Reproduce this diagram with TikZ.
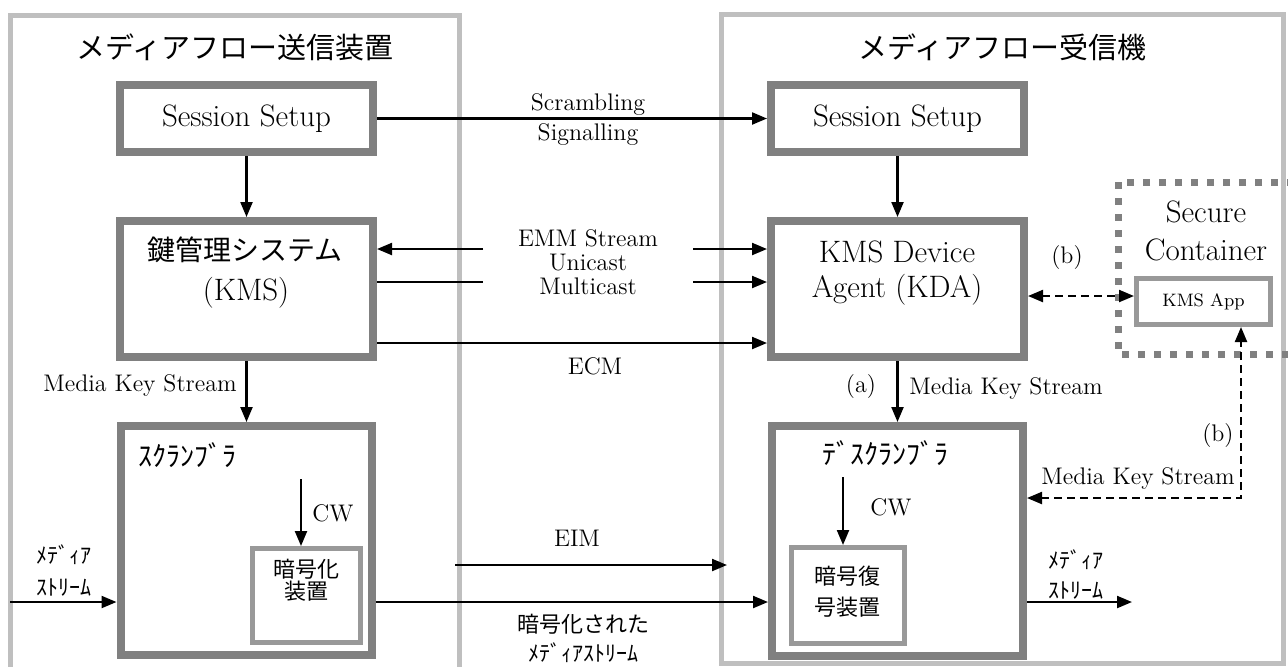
\documentclass[tikz,border=0pt]{standalone}
\usepackage{fontspec}
\newfontfamily\jpfont{Noto Sans CJK JP}
\usetikzlibrary{arrows.meta}
\tikzset{
  >={Triangle[length=7.5pt,width=6pt]},
  panel/.style={draw=black!25, line width=2.5pt},
  blk/.style={draw=black!50, line width=4pt, fill=white, inner sep=0pt},
  sub/.style={draw=black!40, line width=2.5pt, fill=white, inner sep=0pt},
  arr/.style={->, line width=1.1pt},
  darr/.style={<->, line width=1.1pt, dash pattern=on 4pt off 2.5pt},
  big/.style={font=\fontsize{15.5}{17}\selectfont, inner sep=0pt},
  lbl/.style={font=\fontsize{12}{12}\selectfont, inner sep=0pt},
  ttl/.style={font=\jpfont\fontsize{14.5}{16}\selectfont, inner sep=0pt},
  jbig/.style={font=\jpfont\fontsize{14}{16}\selectfont, inner sep=0pt},
  jsm/.style={font=\jpfont\fontsize{11}{11}\selectfont, inner sep=0pt},
}
\begin{document}
\begin{tikzpicture}[x=0.5pt, y=-0.5pt]
\useasboundingbox (0,0) rectangle (1288,666);
% the two sides
\draw[panel] (10,15.5) rectangle (459.5,690);
\draw[panel] (721.5,14) rectangle (1283,663.5);
\node[ttl] (ttlL) at (235,47) {メディアフロー送信装置};
\node[ttl] (ttlR) at (1002,47) {メディアフロー受信機};
% secure container
\draw[black!50, line width=3.5pt, dash pattern=on 3.5pt off 4.5pt] (1310,182) -- (1118,182) -- (1118,354) -- (1310,354);
\node[big] (scA) at (1206,212) {Secure};
\node[big] (scB) at (1206,250) {Container};

% boxes
\node[blk, minimum width=126.5pt, minimum height=33.5pt, big] (ssL) at (246.5,118.5) {Session Setup};
\node[blk, minimum width=126.5pt, minimum height=33.5pt, big] (ssR) at (897.5,118.5) {Session Setup};
\node[blk, minimum width=126.5pt, minimum height=68pt] (kms) at (246.5,289) {};
\node[jbig] (kmsJ) at (245,250) {鍵管理システム};
\node[big] (kmsE) at (246,293) {(KMS)};
\node[blk, minimum width=126.5pt, minimum height=68pt] (kda) at (897.5,289) {};
\node[big] (kdaA) at (897,252) {KMS Device};
\node[big] (kdaB) at (897,290) {Agent (KDA)};
\node[blk, minimum width=125.5pt, minimum height=114.5pt] (scr) at (246,540.5) {};
\node[jbig, anchor=west] (scrT) at (138,455) {ｽｸﾗﾝﾌﾞﾗ};
\node[blk, minimum width=125.5pt, minimum height=115pt] (dscr) at (897.5,541) {};
\node[jbig] (dscrT) at (885,453) {ﾃﾞｽｸﾗﾝﾌﾞﾗ};
\node[sub, minimum width=54pt, minimum height=47pt] (enc) at (306.5,595.5) {};
\node[jsm, align=center] (encT) at (306,580) {暗号化\\装置};
\node[sub, minimum width=56.5pt, minimum height=48pt] (dec) at (848,595.5) {};
\node[jsm, align=center, font=\jpfont\fontsize{11}{15.5}\selectfont] (decT) at (847,592) {暗号復\\号装置};
\node[sub, minimum width=67pt, minimum height=23pt, font=\fontsize{9}{9}\selectfont] (app) at (1203.5,301.5) {KMS App};

% connectors
\draw[arr] (ssL) -- (ssR);
\node[lbl] (scrm) at (588,105) {Scrambling};
\node[lbl] (sgnl) at (588,135) {Signalling};
\draw[arr] (ssL) -- (kms);
\draw[arr] (ssR) -- (kda);
\coordinate (emA) at (483,249);
\coordinate (emB) at (483,282);
\coordinate (emC) at (693,249);
\coordinate (emD) at (693,282);
\draw[arr] (emA) -- (emA -| kms.east);
\draw[line width=1.1pt] (kms.east |- emB) -- (emB);
\draw[arr] (emC) -- (emC -| kda.west);
\draw[arr] (emD) -- (emD -| kda.west);
\node[lbl, align=center] (emm) at (588,262) {EMM Stream\\Unicast\\Multicast};
\coordinate (ecm) at (580,343);
\draw[arr] (kms.east |- ecm) -- (kda.west |- ecm);
\node[lbl] (ecmT) at (595,366) {ECM};
\draw[arr] (kms.south) -- (kms.south |- scr.north);
\node[lbl, anchor=east] (mksL) at (237,385) {Media Key Stream};
\draw[arr] (kda) -- (dscr);
\node[lbl] (aT) at (861,386) {(a)};
\node[lbl, anchor=west] (mksR) at (909,388) {Media Key Stream};
\coordinate (cwL) at (301,479);
\draw[arr] (cwL) -- (cwL |- enc.north);
\node[lbl] (cwLT) at (333,513) {CW};
\coordinate (cwR) at (843,477);
\draw[arr] (cwR) -- (cwR |- dec.north);
\node[lbl] (cwRT) at (891,507) {CW};
\coordinate (mIn) at (10,602);
\draw[arr] (mIn) -- (mIn -| scr.west);
\node[jsm, anchor=west] (mInA) at (36,555) {ﾒﾃﾞｨｱ};
\node[jsm, anchor=west] (mInB) at (36,588) {ｽﾄﾘｰﾑ};
\coordinate (eimA) at (455,565);
\coordinate (eimB) at (727,565);
\draw[arr] (eimA) -- (eimB);
\node[lbl] (eimT) at (577,538) {EIM};
\coordinate (mEnc) at (580,602);
\draw[arr] (scr.east |- mEnc) -- (dscr.west |- mEnc);
\node[jsm] (mEncA) at (583,624) {暗号化された};
\node[jsm] (mEncB) at (583,653) {ﾒﾃﾞｨｱｽﾄﾘｰﾑ};
\coordinate (mOut) at (1132,602);
\draw[arr] (dscr.east |- mOut) -- (mOut);
\node[jsm, anchor=west] (mOutA) at (1048,560) {ﾒﾃﾞｨｱ};
\node[jsm, anchor=west] (mOutB) at (1048,591) {ｽﾄﾘｰﾑ};
\coordinate (kb) at (1080,296);
\draw[darr] (kda.east |- kb) -- (app.west |- kb);
\node[lbl] (bA) at (1067,257) {(b)};
\coordinate (kc) at (1241,498);
\draw[darr] (dscr.east |- kc) -- (kc) -- (kc |- app.south);
\node[lbl, anchor=east] (bB) at (1234,435) {(b)};
\node[lbl, anchor=east] (mksB) at (1235,478) {Media Key Stream};
\end{tikzpicture}
\end{document}
